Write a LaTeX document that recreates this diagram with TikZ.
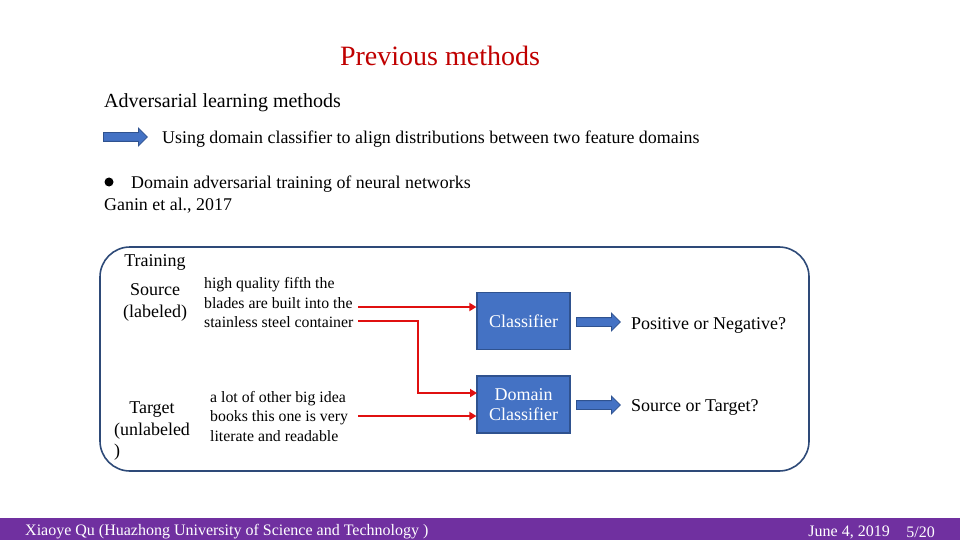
\documentclass[tikz,border=0pt]{standalone}
\usepackage{fontspec}
\setmainfont{Liberation Serif}
\usetikzlibrary{arrows.meta, positioning, shapes.arrows}
\definecolor{titlered}{HTML}{C00000}
\definecolor{boxblue}{HTML}{4472C4}
\definecolor{boxedge}{HTML}{2F528F}
\definecolor{frameblue}{HTML}{2E4A78}
\definecolor{linkred}{HTML}{E01010}
\definecolor{barpurple}{HTML}{7030A0}

\begin{document}
\begin{tikzpicture}[x=1pt, y=-1pt,
  every node/.style={font=\fontsize{17.9}{21}\selectfont, inner sep=0pt},
  blk/.style={draw=boxedge, fill=boxblue, line width=1.2pt, minimum width=93pt, minimum height=57pt,
    text=white, align=center, font=\fontsize{18}{20}\selectfont},
  fat/.style={single arrow, draw=boxedge, fill=boxblue, line width=0.8pt, inner xsep=0pt, inner ysep=4pt,
    single arrow head extend=4.5pt, single arrow head indent=0pt, minimum height=44pt},
  link/.style={draw=linkred, line width=2.5pt, -{Triangle[length=7pt, width=8pt]}},
  small/.style={align=left, font=\fontsize{15.8}{19.5}\selectfont},
  big/.style={font=\fontsize{18}{21.5}\selectfont}]
  \fill[white] (0,0) rectangle (960,540);
  \useasboundingbox (0,0) rectangle (960,540);

  % heading lines
  \node[font=\fontsize{28}{32}\selectfont, text=titlered] (title) at (440,55.5) {Previous methods};
  \node[anchor=west, font=\fontsize{20}{24}\selectfont] (adv) at (104,103) {Adversarial learning methods};
  \node[fat, anchor=west] (usearrow) at (103,137) {};
  \node[anchor=west] (usetext) at (162,139) {Using domain classifier to align distributions between two feature domains};
  \node[circle, fill=black, minimum size=9pt] (dot) at (109,182) {};
  \node[anchor=west] (dann) at (131,184) {Domain adversarial training of neural networks};
  \node[anchor=west] (ganin) at (104,206) {Ganin et al., 2017};

  % training frame
  \node[draw=frameblue, line width=1.6pt, rounded corners=30pt, minimum width=709pt, minimum height=224pt] (frame) at (454.5,359) {};
  \node[big] (train) at (155,262.5) {Training};
  \node[big, align=center] (src) at (155,302.5) {Source\\(labeled)};
  \node[big] (tgt) at (152,431) {\begin{tabular}{@{}l@{}}\multicolumn{1}{@{}c@{}}{Target}\\(unlabeled\\)\end{tabular}};
  \node[small, anchor=west] (srctext) at (204,303) {high quality fifth the\\blades are built into the\\stainless steel container};
  \node[small, anchor=west] (tgttext) at (210,416.5) {a lot of other big idea\\books this one is very\\literate and readable};

  % classifiers
  \node[blk] (cls) at (523.5,321) {Classifier};
  \node[blk] (dcls) at (523.5,404.5) {Domain\\Classifier};
  \coordinate (srcA) at (358,307);
  \coordinate (srcB) at (358,321);
  \coordinate (tgtA) at (358,416);
  \coordinate (dclsin) at (477,393);
  \draw[link] (srcA) -- (srcA -| cls.west);
  \draw[link] (srcB) -- ++(60,0) |- (dclsin);
  \draw[link] (tgtA) -- (tgtA -| dcls.west);

  % outputs
  \node[fat, anchor=west] (clsout) at (576,322) {};
  \node[big, anchor=west] (pn) at (631,325) {Positive or Negative?};
  \node[fat, anchor=west] (dclsout) at (576,405) {};
  \node[big, anchor=west] (st) at (631,407) {Source or Target?};

  % footer
  \node[fill=barpurple, minimum width=960pt, minimum height=22pt, anchor=north west] (bar) at (0,518) {};
  \node[anchor=west, text=white, font=\fontsize{16}{18}\selectfont] (who) at (25,532) {Xiaoye Qu (Huazhong University of Science and Technology )};
  \node[anchor=east, text=white, font=\fontsize{16}{18}\selectfont] (date) at (890,532) {June 4, 2019};
  \node[anchor=east, text=white, font=\fontsize{16}{18}\selectfont] (page) at (935,532) {5/20};
\end{tikzpicture}
\end{document}
